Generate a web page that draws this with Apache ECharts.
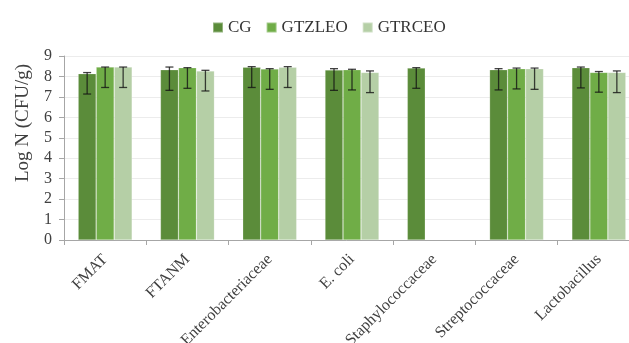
<!DOCTYPE html>
<html>
<head>
<meta charset="utf-8">
<script src="https://cdn.jsdelivr.net/npm/echarts@6/dist/echarts.min.js"></script>
<style>
  html, body { margin: 0; padding: 0; background: #fff; }
  #chart { width: 629px; height: 343px; }
</style>
</head>
<body>
<div id="chart"></div>
<script>
// Microbial counts per group, Log N (CFU/g)
const categories = ['FMAT', 'FTANM', 'Enterobacteriaceae', 'E. coli', 'Staphylococcaceae', 'Streptococcaceae', 'Lactobacillus'];
const seriesNames = ['CG', 'GTZLEO', 'GTRCEO'];

const cgValues     = [8.14, 8.33, 8.45, 8.32, 8.41, 8.33, 8.43];
const gtzleoValues = [8.46, 8.43, 8.37, 8.33, null, 8.38, 8.20];
const gtrceoValues = [8.46, 8.27, 8.45, 8.20, null, 8.38, 8.20];

// Error bar extents (low, high)
const cgLow      = [7.14, 7.32, 7.46, 7.32, 7.42, 7.34, 7.44];
const cgHigh     = [8.19, 8.46, 8.48, 8.38, 8.43, 8.38, 8.46];
const gtzleoLow  = [7.46, 7.42, 7.37, 7.34, null, 7.39, 7.23];
const gtzleoHigh = [8.46, 8.43, 8.38, 8.35, null, 8.41, 8.24];
const gtrceoLow  = [7.46, 7.29, 7.46, 7.21, null, 7.37, 7.21];
const gtrceoHigh = [8.46, 8.30, 8.48, 8.27, null, 8.41, 8.27];

const yTicks = [0, 1, 2, 3, 4, 5, 6, 7, 8, 9];

const colors = ['#5b8c3a', '#70ad47', '#b5cfa6'];
const barWidth = 18;
const serif = '"Liberation Serif", "Times New Roman", serif';

const valueSets = [cgValues, gtzleoValues, gtrceoValues];
const lowSets = [cgLow, gtzleoLow, gtrceoLow];
const highSets = [cgHigh, gtzleoHigh, gtrceoHigh];

const barSeries = seriesNames.map((name, i) => ({
  name: name,
  type: 'bar',
  data: valueSets[i],
  barWidth: barWidth,
  barGap: '0%',
  itemStyle: { color: colors[i], borderColor: 'rgba(255,255,255,0.35)', borderWidth: 0.6 },
  z: 2
}));

const errorSeries = seriesNames.map((name, i) => ({
  type: 'custom',
  name: name + ' error',
  data: categories.map((c, k) => [k, lowSets[i][k], highSets[i][k]]),
  z: 5,
  silent: true,
  renderItem: function (params, api) {
    const lo = api.value(1);
    const hi = api.value(2);
    if (lo == null || hi == null || isNaN(lo) || isNaN(hi)) return null;
    const k = api.value(0);
    const offset = (i - 1) * barWidth;
    const pLo = api.coord([k, lo]);
    const pHi = api.coord([k, hi]);
    const x = pLo[0] + offset;
    const cap = 4;
    const style = { stroke: 'rgba(20,20,20,0.8)', lineWidth: 1.3 };
    return {
      type: 'group',
      children: [
        { type: 'line', shape: { x1: x, y1: pLo[1], x2: x, y2: pHi[1] }, style: style },
        { type: 'line', shape: { x1: x - cap, y1: pLo[1], x2: x + cap, y2: pLo[1] }, style: style },
        { type: 'line', shape: { x1: x - cap, y1: pHi[1], x2: x + cap, y2: pHi[1] }, style: style }
      ]
    };
  }
}));

const chart = echarts.init(document.getElementById('chart'), null, { renderer: 'canvas' });
chart.setOption({
  animation: false,
  backgroundColor: '#ffffff',
  color: colors,
  legend: {
    data: seriesNames,
    top: 14,
    left: 207,
    itemWidth: 10,
    itemHeight: 10,
    itemGap: 14,
    icon: 'rect',
    textStyle: { fontFamily: serif, fontSize: 17, color: '#333' }
  },
  grid: {
    left: 64, top: 56, width: 576, height: 184,
    containLabel: false,
    outerBoundsMode: 'none'
  },
  xAxis: {
    type: 'category',
    data: categories,
    axisLine: { lineStyle: { color: '#a6a6a6', width: 1 } },
    axisTick: { show: true, length: 5, lineStyle: { color: '#a6a6a6' } },
    axisLabel: {
      rotate: 45,
      margin: 17,
      interval: 0,
      fontFamily: serif,
      fontSize: 16,
      color: '#404040'
    }
  },
  yAxis: {
    type: 'value',
    min: yTicks[0],
    max: yTicks[yTicks.length - 1],
    interval: 1,
    name: 'Log N (CFU/g)',
    nameLocation: 'middle',
    nameGap: 31,
    nameTextStyle: { fontFamily: serif, fontSize: 19, color: '#404040', padding: [0, 0, 0, 50] },
    axisLine: { show: true, lineStyle: { color: '#a6a6a6', width: 1 } },
    axisTick: { show: true, length: 5, lineStyle: { color: '#a6a6a6' } },
    axisLabel: { fontFamily: serif, fontSize: 16, color: '#404040', margin: 12 },
    splitLine: { lineStyle: { color: '#ececec', width: 1 } }
  },
  series: barSeries.concat(errorSeries)
});
</script>
</body>
</html>
